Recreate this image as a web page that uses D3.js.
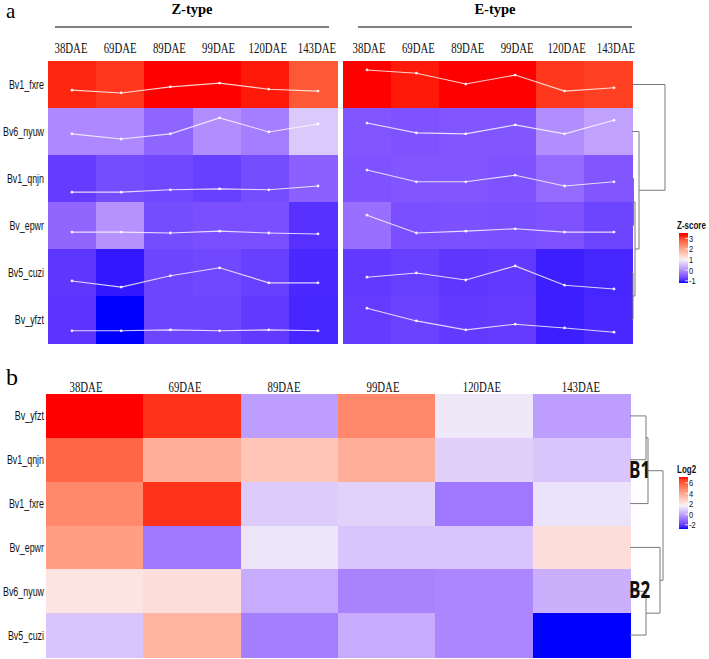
<!DOCTYPE html>
<html>
<head>
<meta charset="utf-8">
<script src="https://cdn.jsdelivr.net/npm/d3@7"></script>
<style>
  body { margin: 0; background: #fff; }
  svg { display: block; }
</style>
</head>
<body>
<script>
// data
const days = ['38DAE', '69DAE', '89DAE', '99DAE', '120DAE', '143DAE'];
const genesA = ['Bv1_fxre', 'Bv6_nyuw', 'Bv1_qnjn', 'Bv_epwr', 'Bv5_cuzi', 'Bv_yfzt'];
const genesB = ['Bv_yfzt', 'Bv1_qnjn', 'Bv1_fxre', 'Bv_epwr', 'Bv6_nyuw', 'Bv5_cuzi'];

// z-scores, rows follow genesA
const zType = [
  [3.2, 3.1, 3.3, 3.3, 3.25, 2.85],
  [-0.05, -0.05, -0.4, 0.0, -0.15, 0.6],
  [-0.8, -0.65, -0.7, -0.78, -0.65, -0.45],
  [-0.39, 0.05, -0.65, -0.62, -0.62, -0.9],
  [-0.85, -1.09, -0.72, -0.7, -0.78, -0.98],
  [-0.87, -1.2, -0.72, -0.72, -0.82, -1.0]
];
const eType = [
  [3.3, 3.25, 3.3, 3.3, 3.1, 3.05],
  [-0.55, -0.58, -0.55, -0.55, 0.0, 0.2],
  [-0.58, -0.55, -0.55, -0.58, -0.35, -0.55],
  [-0.3, -0.62, -0.6, -0.62, -0.58, -0.72],
  [-0.82, -0.78, -0.85, -0.82, -1.05, -1.0],
  [-0.8, -0.75, -0.82, -0.8, -1.05, -0.98]
];
// trend lines drawn inside each row (0 = bottom of row, 1 = top)
const zTrend = [
  [0.38, 0.32, 0.45, 0.53, 0.40, 0.36],
  [0.45, 0.34, 0.45, 0.79, 0.49, 0.66],
  [0.21, 0.21, 0.26, 0.28, 0.26, 0.34],
  [0.36, 0.36, 0.34, 0.38, 0.34, 0.32],
  [0.32, 0.19, 0.43, 0.60, 0.28, 0.28],
  [0.26, 0.26, 0.28, 0.26, 0.28, 0.26]
];
const eTrend = [
  [0.81, 0.74, 0.51, 0.70, 0.36, 0.43],
  [0.68, 0.47, 0.45, 0.64, 0.45, 0.74],
  [0.68, 0.43, 0.43, 0.57, 0.34, 0.43],
  [0.72, 0.34, 0.38, 0.43, 0.36, 0.36],
  [0.40, 0.49, 0.34, 0.64, 0.23, 0.15],
  [0.74, 0.47, 0.28, 0.40, 0.32, 0.23]
];
// log2 values, rows follow genesB
const log2B = [
  [7.1, 6.7, -0.07, 4.8, 1.4, -0.07],
  [5.7, 3.7, 3.0, 3.7, 0.94, 0.72],
  [4.8, 6.7, 0.85, 0.98, -0.82, 1.3],
  [4.2, -0.82, 1.35, 0.72, 0.72, 2.25],
  [2.05, 2.2, 0.2, -0.6, -0.55, 0.28],
  [0.72, 3.5, -0.7, 0.2, -0.55, -2.8]
];
const zTicks = [3, 2, 1, 0, -1];
const log2Ticks = [6, 4, 2, 0, -2];

// row clustering: [a, b, height]; negative = leaf row (1-based), positive = earlier merge
const mergesA = [[-3, -4, 1.5], [-5, -6, 1], [1, 2, 3], [-2, 3, 7], [-1, 4, 33]];
const mergesB = [[-1, -2, 16], [1, -3, 18], [-5, -6, 16], [-4, 3, 30], [2, 4, 33]];

// layout
const W = 709, H = 659;
const stretch = 1.35;
const serif = "'Liberation Serif', 'Times New Roman', serif";
const sans = "'Liberation Sans', Arial, sans-serif";

const svg = d3.select('body').append('svg').attr('width', W).attr('height', H);

const colZ = d3.scaleLinear().domain([-1.2, 1, 3.3])
  .range(['#0000ff', '#f4f2f7', '#ff0000']).interpolate(d3.interpolateLab);
const colB = d3.scaleLinear().domain([-2.8, 1.6, 7.1])
  .range(['#0000ff', '#f4f2f7', '#ff0000']).interpolate(d3.interpolateLab);

// panel a scales
const yA = d3.scaleBand().domain(genesA).range([61, 343]);
const xZ = d3.scaleBand().domain(days).range([48, 337]);
const xE = d3.scaleBand().domain(days).range([343, 632]);
const ptZ = d3.scalePoint().domain(days).range([72, 318]);
const ptE = d3.scalePoint().domain(days).range([367, 614]);

// panel b scales
const yB = d3.scaleBand().domain(genesB).range([394, 657]);
const xB = d3.scaleBand().domain(days).range([46, 630]);
const ptB = d3.scalePoint().domain(days).range([86, 581]);

function stretchedText(g, x, y, txt, opts) {
  return g.append('text')
    .attr('transform', `translate(${x},${y}) scale(1,${opts.sy || stretch})`)
    .attr('text-anchor', opts.anchor || 'middle')
    .attr('dominant-baseline', 'central')
    .attr('font-family', opts.family || sans)
    .attr('font-size', opts.size)
    .attr('font-weight', opts.weight || 'normal')
    .attr('fill', opts.fill || '#111')
    .text(txt);
}

function heat(x, y, genes, values, color) {
  const cells = values.flatMap((r, i) => r.map((v, j) => ({ g: genes[i], d: days[j], v })));
  svg.append('g').attr('shape-rendering', 'crispEdges')
    .selectAll('rect').data(cells).join('rect')
    .attr('x', (c) => x(c.d))
    .attr('y', (c) => y(c.g))
    .attr('width', x.bandwidth() + 0.5)
    .attr('height', y.bandwidth() + 0.5)
    .attr('fill', (c) => color(c.v));
}

function trend(px, y, genes, lines) {
  const g = svg.append('g');
  lines.forEach((row, i) => {
    const ry = d3.scaleLinear().domain([0, 1])
      .range([y(genes[i]) + y.bandwidth(), y(genes[i])]);
    const pts = row.map((v, j) => [px(days[j]), ry(v)]);
    g.append('path')
      .attr('d', d3.line()(pts))
      .attr('fill', 'none')
      .attr('stroke', '#fff')
      .attr('stroke-opacity', 0.8)
      .attr('stroke-width', 1.1);
    g.selectAll(null).data(pts).join('circle')
      .attr('cx', (p) => p[0]).attr('cy', (p) => p[1]).attr('r', 1.4)
      .attr('fill', '#fff').attr('fill-opacity', 0.9);
  });
}

function dendro(merges, y, genes, x0, maxH) {
  const h = d3.scaleLinear().domain([0, maxH]).range([x0, x0 + maxH]);
  const nodes = [];
  const pos = (id) => (id < 0
    ? { x: x0, y: y(genes[-id - 1]) + y.bandwidth() / 2 }
    : nodes[id - 1]);
  const g = svg.append('g');
  merges.forEach(([a, b, ht]) => {
    const pa = pos(a), pb = pos(b), xh = h(ht);
    const p = d3.path();
    p.moveTo(pa.x, pa.y); p.lineTo(xh, pa.y); p.lineTo(xh, pb.y); p.lineTo(pb.x, pb.y);
    g.append('path').attr('d', p.toString())
      .attr('fill', 'none').attr('stroke', '#7a7a7a').attr('stroke-width', 1);
    nodes.push({ x: xh, y: (pa.y + pb.y) / 2 });
  });
}

function legend(x, y0, y1, domain, color, ticks, title) {
  const ly = d3.scaleLinear().domain(domain).range([y1, y0]);
  const id = 'grad' + title.replace(/\W/g, '');
  const grad = svg.append('defs').append('linearGradient')
    .attr('id', id).attr('x1', 0).attr('y1', 1).attr('x2', 0).attr('y2', 0);
  d3.range(0, 1.0001, 0.05).forEach((t) => {
    grad.append('stop').attr('offset', t)
      .attr('stop-color', color(domain[0] + t * (domain[1] - domain[0])));
  });
  svg.append('rect').attr('x', x).attr('y', y0).attr('width', 9).attr('height', y1 - y0)
    .attr('fill', `url(#${id})`);
  const g = svg.append('g');
  ticks.forEach((t) => {
    g.append('line').attr('x1', x + 6).attr('x2', x + 9)
      .attr('y1', ly(t)).attr('y2', ly(t)).attr('stroke', '#fff').attr('stroke-width', 0.8);
    stretchedText(g, x + 10, ly(t), String(t), { anchor: 'start', size: 7.5, sy: 1.25 });
  });
  stretchedText(svg, x - 2, y0 - 7, title, { anchor: 'start', size: 8, weight: 'bold', sy: 1.3 });
}

// ---- panel a ----
svg.append('text').attr('x', 6).attr('y', 18).attr('font-family', serif)
  .attr('font-size', 21).text('a');

[['Z-type', 55, 329], ['E-type', 358, 632]].forEach(([t, l, r]) => {
  svg.append('text').attr('x', (l + r) / 2).attr('y', 14).attr('text-anchor', 'middle')
    .attr('font-family', serif).attr('font-weight', 'bold').attr('font-size', 14.5).text(t);
  svg.append('line').attr('x1', l).attr('x2', r).attr('y1', 27).attr('y2', 27)
    .attr('stroke', '#555').attr('stroke-width', 1.6);
});

heat(xZ, yA, genesA, zType, colZ);
heat(xE, yA, genesA, eType, colZ);
trend(ptZ, yA, genesA, zTrend);
trend(ptE, yA, genesA, eTrend);

days.forEach((d) => {
  stretchedText(svg, ptZ(d) - 1, 48, d, { family: serif, size: 10.8 });
  stretchedText(svg, ptE(d) + 2, 48, d, { family: serif, size: 10.8 });
});
genesA.forEach((gname) => {
  stretchedText(svg, 44, yA(gname) + yA.bandwidth() / 2, gname, { anchor: 'end', size: 8.9 });
});
dendro(mergesA, yA, genesA, 632, 33);
legend(679, 233, 283, [-1.2, 3.5], colZ, zTicks, 'Z-score');

// ---- panel b ----
svg.append('text').attr('x', 6).attr('y', 385).attr('font-family', serif)
  .attr('font-size', 24).text('b');

heat(xB, yB, genesB, log2B, colB);
days.forEach((d) => {
  stretchedText(svg, ptB(d), 387, d, { family: serif, size: 10.8 });
});
genesB.forEach((gname) => {
  stretchedText(svg, 44, yB(gname) + yB.bandwidth() / 2, gname, { anchor: 'end', size: 8.9 });
});
dendro(mergesB, yB, genesB, 630, 33);

[['B1', 469], ['B2', 589]].forEach(([t, y]) => {
  stretchedText(svg, 629, y, t, {
    anchor: 'start', size: 17, weight: 'bold', family: "'Open Sans', sans-serif", sy: 1.4
  });
});
legend(679, 477, 529, [-2.8, 7.1], colB, log2Ticks, 'Log2');
</script>
</body>
</html>
